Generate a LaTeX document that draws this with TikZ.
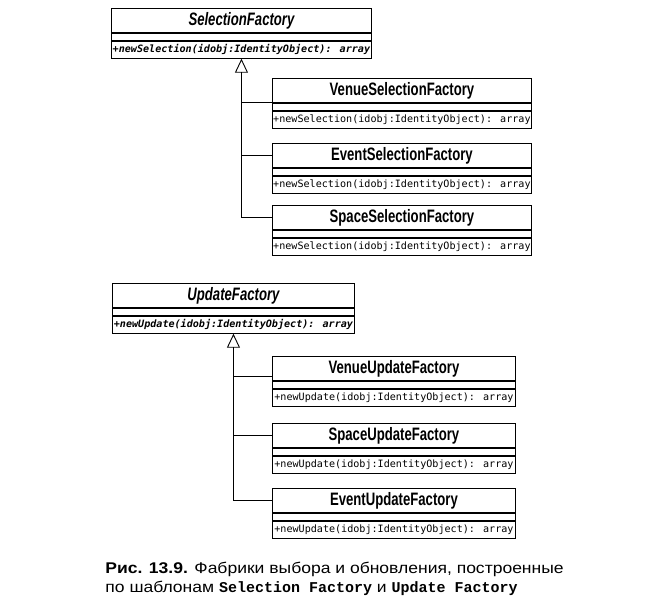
\documentclass[tikz,border=0pt]{standalone}
\usepackage{fontspec}
\setmainfont{Liberation Sans}
\newfontfamily\namefont[FakeStretch=0.73]{Liberation Sans}
\newfontfamily\opfont{DejaVu Sans Mono}
\newfontfamily\capfont[FakeStretch=1.13]{Liberation Sans}
\newfontfamily\capmono{Liberation Mono}
\usetikzlibrary{arrows.meta}

\begin{document}
\begin{tikzpicture}[x=1pt,y=-1pt,line width=0.9pt,
  cname/.style={draw,anchor=north west,inner sep=0pt,minimum height=24pt,
    font=\namefont\bfseries\fontsize{18}{18}\selectfont},
  cband/.style={draw,anchor=north,inner sep=0pt,minimum height=7pt},
  cop/.style={draw,anchor=north,inner sep=0pt,minimum height=17pt,
    font=\opfont\fontsize{10.1}{12}\selectfont},
  isa/.style={-{Triangle[open,length=14pt,width=13pt]}}]
\useasboundingbox (0,0) rectangle (655,612);

\node[cname,minimum width=260pt] (sel) at (111,8) {\itshape SelectionFactory};
\node[cband,minimum width=260pt] (selb) at (sel.south) {};
\node[cop,minimum width=260pt] (selop) at (selb.south) {\bfseries\itshape +newSelection(idobj:IdentityObject): array};

\node[cname,minimum width=259pt] (vsel) at (272,78) {VenueSelectionFactory};
\node[cband,minimum width=259pt] (vselb) at (vsel.south) {};
\node[cop,minimum width=259pt] (vselop) at (vselb.south) {+newSelection(idobj:IdentityObject): array};

\node[cname,minimum width=259pt] (esel) at (272,143) {EventSelectionFactory};
\node[cband,minimum width=259pt] (eselb) at (esel.south) {};
\node[cop,minimum width=259pt] (eselop) at (eselb.south) {+newSelection(idobj:IdentityObject): array};

\node[cname,minimum width=259pt] (ssel) at (272,205) {SpaceSelectionFactory};
\node[cband,minimum width=259pt] (sselb) at (ssel.south) {};
\node[cop,minimum width=259pt] (sselop) at (sselb.south) {+newSelection(idobj:IdentityObject): array};

\draw[isa] (ssel.west) -| (selop.south);
\draw (vsel.south west) -- (vsel.south west -| selop.south);
\draw (esel.west) -- (esel.west -| selop.south);

\node[cname,minimum width=242pt] (upd) at (112,283) {\itshape UpdateFactory};
\node[cband,minimum width=242pt] (updb) at (upd.south) {};
\node[cop,minimum width=242pt] (updop) at (updb.south) {\bfseries\itshape +newUpdate(idobj:IdentityObject): array};

\node[cname,minimum width=243pt] (vupd) at (272,356) {VenueUpdateFactory};
\node[cband,minimum width=243pt] (vupdb) at (vupd.south) {};
\node[cop,minimum width=243pt] (vupdop) at (vupdb.south) {+newUpdate(idobj:IdentityObject): array};

\node[cname,minimum width=243pt] (supd) at (272,423) {SpaceUpdateFactory};
\node[cband,minimum width=243pt] (supdb) at (supd.south) {};
\node[cop,minimum width=243pt] (supdop) at (supdb.south) {+newUpdate(idobj:IdentityObject): array};

\node[cname,minimum width=243pt] (eupd) at (272,488) {EventUpdateFactory};
\node[cband,minimum width=243pt] (eupdb) at (eupd.south) {};
\node[cop,minimum width=243pt] (eupdop) at (eupdb.south) {+newUpdate(idobj:IdentityObject): array};

\coordinate (vupdjoin) at ([yshift=-8pt]vupd.west);
\draw[isa] (eupd.west) -| (updop.south);
\draw (vupdjoin) -- (vupdjoin -| updop.south);
\draw (supd.west) -- (supd.west -| updop.south);

\node[anchor=base west,inner sep=0pt,font=\capfont\fontsize{15.5}{19}\selectfont] (cap1) at (105,573)
  {\textbf{Рис. 13.9.} Фабрики выбора и обновления, построенные};
\node[anchor=base west,inner sep=0pt,font=\capfont\fontsize{15.5}{19}\selectfont] (cap2) at (105,592)
  {по шаблонам {\capmono\fontsize{15}{19}\selectfont\bfseries Selection Factory} и {\capmono\fontsize{15}{19}\selectfont\bfseries Update Factory}};
\end{tikzpicture}
\end{document}
